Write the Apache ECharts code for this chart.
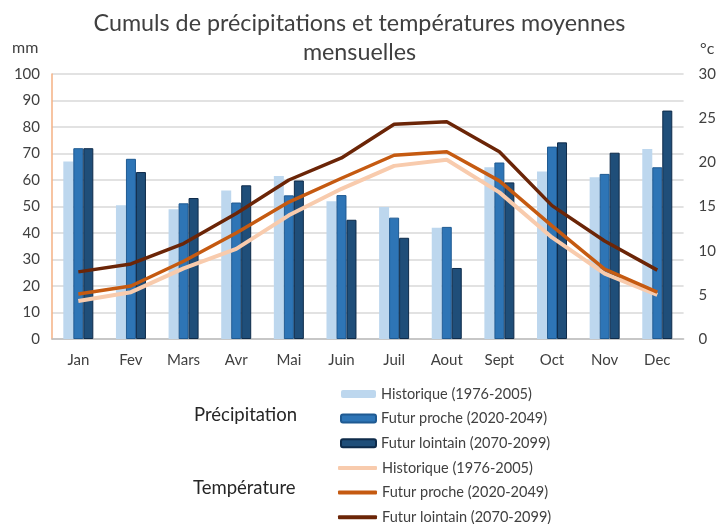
<!DOCTYPE html>
<html>
<head>
<meta charset="utf-8">
<script src="https://cdn.jsdelivr.net/npm/echarts@6/dist/echarts.min.js"></script>
<style>
  html, body {margin:0; padding:0; background:#fff;}
  #chart {width:719px; height:524px;}
</style>
</head>
<body>
<div id="chart"></div>
<script>
// données
var mois = ['Jan','Fev','Mars','Avr','Mai','Juin','Juil','Aout','Sept','Oct','Nov','Dec'];

// précipitations (mm)
var precip_hist     = [67, 50.5, 49, 56, 61.5, 52, 49.8, 42, 64.8, 63.2, 61, 71.7];
var precip_proche   = [72, 68, 51.2, 51.5, 54.2, 54.3, 45.8, 42.3, 66.6, 72.6, 62.3, 64.8];
var precip_lointain = [72, 63, 53.2, 58, 59.8, 45, 38.2, 26.8, 59.1, 74.2, 70.3, 86.2];

// températures (°C)
var temp_hist     = [4.3, 5.3, 8.0, 10.2, 14.0, 17.0, 19.6, 20.3, 16.6, 11.5, 7.4, 5.0];
var temp_proche   = [5.1, 6.0, 8.8, 12.0, 15.5, 18.2, 20.8, 21.2, 17.9, 12.8, 7.9, 5.3];
var temp_lointain = [7.6, 8.5, 10.8, 14.2, 18.0, 20.5, 24.3, 24.6, 21.2, 15.1, 11.1, 7.8];

var noms = ['Historique (1976-2005)', 'Futur proche (2020-2049)', 'Futur lointain (2070-2099)'];
var zw = '\u200b'; // pour distinguer les noms des courbes dans la légende
var noms_temp = noms.map(function (n) { return n + zw; });

var police = 'Lato';

var myChart = echarts.init(document.getElementById('chart'));

var legende_texte = {fontFamily: police, fontSize: 14.5, color: '#404040', lineHeight: 16};

// le texte est coupé entre "t" et "i" (rich text) pour éviter la ligature de Lato
var option = {
    animation: false,
    textStyle: {fontFamily: police},
    title: {
        text: '{a|Cumuls de précipit}{a|ations et températures moyennes}\n{a|mensuelles}',
        left: 'center',
        top: 4,
        textStyle: {
            fontFamily: police, fontSize: 23.3, fontWeight: 'normal', color: '#404040', lineHeight: 29,
            rich: {a: {fontFamily: police, fontSize: 23.3, color: '#404040', lineHeight: 29}}
        }
    },
    grid: {left: 52, right: 34, top: 74, bottom: 185},
    graphic: [
        {type: 'text', left: 12, top: 40, style: {text: 'mm', font: '16px ' + police, fill: '#404040'}},
        {type: 'text', left: 700, top: 41, style: {text: '°c', font: '16px ' + police, fill: '#404040'}},
        {type: 'text', left: 194, top: 406, style: {
            text: '{a|Précipit}{a|ation}', fill: '#262626',
            rich: {a: {fontFamily: police, fontSize: 18.5, fill: '#262626'}}
        }},
        {type: 'text', left: 193, top: 479, style: {text: 'Température', font: '18.5px ' + police, fill: '#262626'}}
    ],
    legend: [
        {
            orient: 'vertical', left: 340, top: 386, height: 90, padding: 0,
            itemWidth: 35, itemHeight: 8, itemGap: 8.6,
            textStyle: legende_texte,
            data: noms
        },
        {
            orient: 'vertical', left: 338, top: 460, height: 90, padding: 0,
            itemWidth: 39, itemHeight: 4, itemGap: 8.6, icon: 'roundRect',
            textStyle: legende_texte,
            formatter: function (n) { return n.replace(zw, ''); },
            data: noms_temp
        }
    ],
    xAxis: {
        type: 'category',
        data: mois,
        axisLine: {lineStyle: {color: '#BFBFBF', width: 1.5}},
        axisTick: {show: false},
        axisLabel: {fontFamily: police, fontSize: 15, color: '#404040', margin: 14}
    },
    yAxis: [
        {
            type: 'value', min: 0, max: 100, interval: 10,
            axisLine: {show: true, lineStyle: {color: '#F4B183', width: 1.5}},
            axisTick: {show: false},
            axisLabel: {fontFamily: police, fontSize: 15, color: '#404040', margin: 12},
            splitLine: {lineStyle: {color: '#D9D9D9', width: 1.5}}
        },
        {
            type: 'value', min: 0, max: 30, interval: 5,
            axisLine: {show: false},
            axisTick: {show: false},
            axisLabel: {fontFamily: police, fontSize: 15, color: '#404040', margin: 15},
            splitLine: {show: false}
        }
    ],
    series: [
        {name: noms[0], type: 'bar', data: precip_hist, barWidth: 10, barGap: '0%',
         itemStyle: {color: '#BDD7EE'}},
        {name: noms[1], type: 'bar', data: precip_proche, barWidth: 10, barGap: '0%',
         itemStyle: {color: '#2E75B6', borderColor: '#1F5A92', borderWidth: 1}},
        {name: noms[2], type: 'bar', data: precip_lointain, barWidth: 10, barGap: '0%',
         itemStyle: {color: '#1F4E79', borderColor: '#0E2B4A', borderWidth: 1}},
        {name: noms_temp[0], type: 'line', yAxisIndex: 1, data: temp_hist, symbol: 'none',
         lineStyle: {color: '#F8CBAD', width: 4}, itemStyle: {color: '#F8CBAD'}},
        {name: noms_temp[1], type: 'line', yAxisIndex: 1, data: temp_proche, symbol: 'none',
         lineStyle: {color: '#C55A11', width: 3.5}, itemStyle: {color: '#C55A11'}},
        {name: noms_temp[2], type: 'line', yAxisIndex: 1, data: temp_lointain, symbol: 'none',
         lineStyle: {color: '#6B2507', width: 3.5}, itemStyle: {color: '#6B2507'}}
    ]
};

myChart.setOption(option);
</script>
</body>
</html>
